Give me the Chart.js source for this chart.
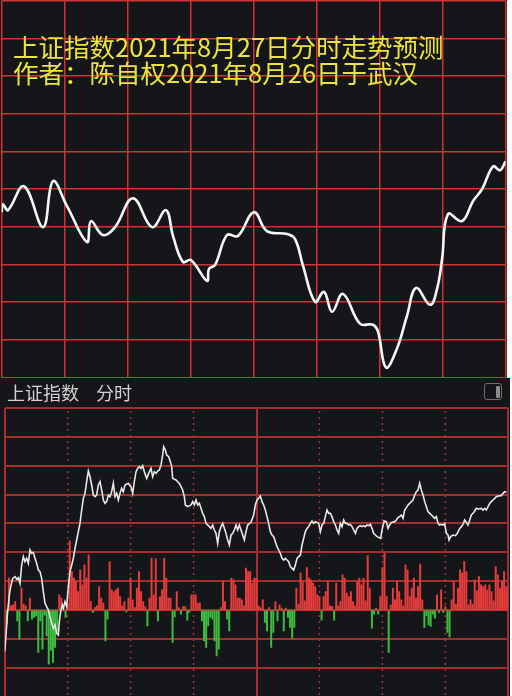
<!DOCTYPE html>
<html><head><meta charset="utf-8">
<script src="https://cdn.jsdelivr.net/npm/chart.js@4.4.0/dist/chart.umd.min.js"></script>
<style>
html,body{margin:0;padding:0;background:#fff;width:512px;height:696px;overflow:hidden;}
#top{position:absolute;left:0;top:0;width:507px;height:380px;background:#151619;}
#bot{position:absolute;left:0;top:378px;width:510px;height:330px;background:#151619;}
canvas{position:absolute;left:0;top:0;}
.t{position:absolute;left:13px;color:#ece43c;font-family:"Noto Sans CJK SC";font-size:25.5px;line-height:26px;white-space:nowrap;z-index:2;}
.h{position:absolute;top:3px;color:#d2d2d2;font-family:"Noto Sans CJK SC";font-size:18px;line-height:22px;white-space:nowrap;z-index:2;}
#icon{position:absolute;left:484px;top:5px;width:16px;height:15px;border:1.5px solid #6f6f6f;border-radius:3px;z-index:2;}
#icon span{position:absolute;right:1.5px;top:1.5px;width:4px;height:12px;background:#8a8a8a;border-radius:1px;}
</style></head>
<body>
<div id="top">
  <canvas id="c1" width="507" height="380"></canvas>
  <div class="t" style="top:33px">上证指数2021年8月27日分时走势预测</div>
  <div class="t" style="top:59px">作者：陈自权2021年8月26日于武汉</div>
</div>
<div id="bot">
  <canvas id="c2" width="510" height="330"></canvas>
  <div class="h" style="left:7px">上证指数</div>
  <div class="h" style="left:96px">分时</div>
  <div id="icon"><span></span></div>
</div>
<script>
// ---- forecast (top panel): minute of session, index level ----
const topTimes = [0,0.6,3,10.6,19.7,24.4,31.1,40.6,42.5,48.2,54,62.5,71.6,78.2,81.6,86.3,90.1,97.8,98.7,101.6,107.3,112.5,120.1,126.3,135.9,139.7,143.5,149.2,153.5,157.3,162.5,170.6,176.8,179.2,183,188.2,193,197.3,204,207.3,209.7,212.5,219.2,224.4,228.7,234,237.3,239.9];
const topValues = [3523.2,3524.8,3523.6,3528.4,3520.2,3529.4,3524.4,3517.2,3521.4,3518.6,3520.2,3526.0,3520.2,3523.6,3518.4,3513.2,3513.6,3509.4,3511.8,3512.6,3518.6,3518.4,3523.2,3519.4,3518.8,3517.8,3512.4,3505.2,3507.2,3503.2,3506.8,3500.8,3500.6,3499.2,3492.0,3495.8,3502.4,3508.0,3504.6,3507.8,3513.8,3522.8,3521.4,3525.4,3527.8,3532.4,3531.6,3533.4];

// ---- actual intraday (bottom panel) ----
const bottomTimes = [0,0.62,1.26,2.21,2.84,3.80,4.91,5.70,6.50,7.29,8.09,8.88,9.67,10.47,11.26,12.06,12.85,13.65,14.44,15.23,16.03,16.82,17.62,18.41,19.21,20.0,20.80,21.59,22.38,23.18,23.97,24.77,25.56,26.04,26.67,27.47,27.94,28.74,29.53,30.33,31.12,31.92,32.71,33.50,34.30,35.09,35.89,36.68,37.48,38.27,39.06,39.86,40.65,41.45,42.24,43.04,43.83,44.62,45.42,46.21,47.01,47.80,48.60,49.39,50.18,50.98,51.77,52.57,53.36,54.16,54.95,55.74,56.54,57.33,58.92,
59.40,60.19,60.99,61.78,62.58,63.37,64.16,64.96,65.75,66.55,67.66,68.61,69.72,70.52,71.31,72.11,72.90,73.70,74.49,75.28,75.76,76.56,77.19,78.14,78.94,79.57,80.05,81.64,83.23,84.02,84.82,85.61,86.09,87.20,88.79,89.58,90.38,91.17,91.97,92.76,93.55,94.35,95.14,95.94,96.73,97.53,98.32,99.11,99.91,100.70,101.50,102.29,103.09,103.88,104.67,105.47,106.26,107.06,107.85,108.65,109.44,110.23,111.03,111.82,112.62,113.41,114.21,115.0,115.79,117.38,
118.65,119.45,120.24,121.04,121.83,122.63,123.42,124.21,125.01,125.80,126.60,127.39,128.19,128.98,129.78,130.57,131.36,132.16,132.95,133.75,134.54,135.34,136.13,136.92,137.72,138.51,139.31,140.10,140.90,141.69,142.48,143.28,144.07,144.87,145.66,146.46,147.25,148.04,148.84,149.63,150.43,151.22,152.02,152.81,153.60,154.40,155.19,155.99,156.78,157.58,158.37,159.16,159.96,160.75,161.55,162.34,163.14,163.93,164.72,165.52,166.31,167.11,167.90,168.70,169.49,170.28,171.08,171.87,172.67,173.46,174.26,175.05,175.84,176.64,177.43,
179.18,179.82,180.77,181.88,182.68,183.47,184.26,185.85,186.65,187.44,188.24,189.03,189.83,190.62,191.41,192.21,193.00,193.80,194.59,195.39,196.18,196.97,197.77,198.56,199.36,200.15,200.95,201.74,202.53,203.33,204.12,204.92,205.71,206.51,207.30,208.09,208.89,209.68,210.48,211.27,211.75,212.54,213.65,214.77,215.72,216.83,217.63,218.42,219.21,220.01,220.80,221.60,222.39,223.19,223.98,224.77,225.57,227.16,227.95,228.75,229.54,230.33,231.13,231.92,232.72,233.51,234.31,235.89,236.69,237.48,238.28,239.07];
const bottomValues = [3490.07,3493.4,3497.4,3501.4,3503.07,3504.73,3505.07,3504.6,3504.87,3503.73,3507.4,3509.07,3508.07,3508.73,3507.73,3510.4,3509.73,3509.93,3508.73,3507.73,3506.4,3506.07,3504.73,3502.07,3499.73,3499.07,3498.4,3497.07,3495.73,3494.73,3495.4,3493.73,3493.4,3496.07,3498.07,3499.4,3498.73,3500.07,3499.07,3503.07,3506.07,3507.4,3508.73,3510.73,3512.4,3514.07,3515.73,3518.4,3520.73,3521.73,3524.07,3526.2,3525.07,3523.4,3521.4,3521.07,3521.4,3523.4,3524.07,3522.4,3520.4,3519.73,3520.07,3521.4,3521.07,3522.07,3523.73,3521.07,3521.73,3520.4,3521.73,3522.73,3522.07,3523.4,3523.73,
3523.4,3523.07,3521.73,3524.07,3526.07,3526.73,3527.07,3526.73,3527.27,3526.07,3524.73,3525.73,3526.73,3525.07,3526.07,3525.73,3526.2,3526.4,3527.4,3529.4,3531.07,3530.4,3529.4,3529.07,3528.07,3527.07,3524.73,3524.4,3523.73,3523.07,3522.4,3521.07,3519.4,3519.07,3519.4,3520.07,3519.4,3520.4,3519.4,3519.73,3518.73,3517.73,3517.07,3515.73,3515.4,3515.07,3514.73,3515.4,3514.4,3513.73,3511.73,3514.07,3515.07,3515.73,3514.73,3513.73,3512.4,3511.4,3513.4,3513.73,3514.4,3515.4,3514.4,3515.4,3514.4,3513.4,3512.4,3514.07,3515.4,3515.93,
3517.4,3519.4,3520.4,3520.73,3521.2,3520.07,3519.4,3518.4,3517.07,3515.73,3514.07,3513.4,3513.07,3512.07,3511.07,3510.4,3509.73,3508.73,3508.4,3508.73,3508.4,3508.07,3507.07,3506.73,3506.4,3507.4,3508.73,3509.07,3509.4,3511.4,3512.73,3514.07,3514.73,3515.07,3515.73,3516.2,3515.73,3516.07,3515.93,3515.73,3514.07,3515.4,3515.73,3517.07,3518.4,3517.73,3517.73,3517.07,3516.07,3515.4,3514.4,3513.73,3515.73,3515.07,3516.4,3515.73,3515.73,3515.4,3515.53,3515.07,3514.4,3513.73,3514.73,3515.07,3515.27,3515.07,3515.27,3515.07,3515.4,3515.27,3515.53,3514.73,3513.73,3513.4,3513.07,
3512.73,3514.4,3516.2,3516.07,3514.73,3515.4,3515.93,3516.07,3516.4,3516.87,3517.07,3517.4,3516.73,3518.4,3518.87,3519.4,3519.73,3520.07,3520.4,3521.4,3522.07,3522.4,3523.73,3522.4,3521.4,3520.07,3519.07,3518.07,3517.73,3517.4,3517.07,3516.73,3517.07,3515.73,3515.4,3515.53,3515.4,3515.73,3513.73,3513.4,3512.4,3513.07,3513.4,3513.27,3513.73,3514.73,3515.07,3515.53,3516.4,3515.93,3515.4,3516.4,3517.4,3517.73,3518.2,3518.73,3518.6,3518.73,3518.4,3518.73,3518.4,3519.07,3519.73,3520.07,3520.4,3520.73,3521.07,3521.27,3521.27,3521.73,3522.07,3521.93];

// ---- per-minute bar values (positive red, negative green), index = minute ----
const volumes = [
0,-42,98,15,18,28,-32,-87,68,20,
15,-32,38,-27,-22,-17,-127,-32,-117,-15,
-77,-162,-120,-157,-112,-62,48,38,10,-22,
20,210,118,98,88,58,123,78,138,98,
168,28,-7,10,15,73,38,23,-92,-27,
148,63,58,63,68,43,15,28,-5,38,
98,33,10,68,118,58,28,12,-47,38,
158,48,156,-32,43,63,158,98,38,38,
-97,-20,58,10,-12,13,13,-30,-7,48,
48,48,23,23,-32,-92,-112,-47,-22,-27,
-92,-137,-117,10,88,28,-27,-62,98,93,
78,38,38,33,15,128,118,118,83,98,
98,15,10,33,-37,-62,10,-112,-67,28,
-32,18,8,-62,8,-22,-52,-84,-52,68,
20,113,88,30,130,98,93,83,73,48,
43,-30,43,58,88,15,13,-30,83,15,
28,108,98,53,43,58,28,15,88,98,
78,98,30,166,68,-54,-12,8,-12,43,
128,173,43,-127,18,68,33,88,58,33,
15,138,123,43,68,98,38,73,140,33,
-52,-17,-44,-49,-12,-24,48,-7,63,-7,
13,-67,-80,33,88,20,68,123,113,148,
118,18,33,20,93,60,103,78,73,78,
63,78,58,30,133,108,68,88,118,73,
73];

const solidMinutes = [0,120,240];
const dottedMinutes = [30,60,90,150,180,210];

const hidden = {legend:{display:false},tooltip:{enabled:false}};

new Chart(document.getElementById('c1'), {
  type:'line',
  data:{datasets:[{
    data: topTimes.map((t,i)=>({x:t,y:topValues[i]})),
    borderColor:'#f6f6f6', borderWidth:2.6, pointRadius:0, tension:0.4, fill:false
  }]},
  options:{
    responsive:false, animation:false, devicePixelRatio:1,
    layout:{padding:{left:1.7,right:1.3,top:0.7,bottom:2.5}},
    plugins:hidden,
    scales:{
      x:{type:'linear',min:0,max:240,ticks:{display:false,stepSize:30},
         grid:{color:'#cf3333',lineWidth:1.5,drawTicks:false},border:{display:false}},
      y:{min:3490,max:3565.66,ticks:{display:false,count:11},
         grid:{color:'#cf3333',lineWidth:1.5,drawTicks:false},border:{display:false}}
    }
  }
});

const dottedGrid = {
  id:'dottedGrid',
  beforeDatasetsDraw(chart){
    const {ctx, chartArea:a, scales:{x}} = chart;
    ctx.save();
    ctx.strokeStyle='#a33030'; ctx.lineWidth=1.5; ctx.setLineDash([2,4]);
    dottedMinutes.forEach(t=>{
      const px = x.getPixelForValue(t);
      ctx.beginPath(); ctx.moveTo(px,a.top+3); ctx.lineTo(px,a.bottom); ctx.stroke();
    });
    ctx.restore();
  }
};

new Chart(document.getElementById('c2'), {
  type:'bar',
  data:{datasets:[
    {type:'line', data: bottomTimes.map((t,i)=>({x:t,y:bottomValues[i]})), yAxisID:'y',
     borderColor:'#e8e8e8', borderWidth:1.6, pointRadius:0, tension:0, fill:false, order:0},
    {type:'bar', data: volumes.map((v,i)=>({x:i,y:v})), yAxisID:'yv',
     backgroundColor: c => (c.raw && c.raw.y < 0) ? '#3fbb3f' : '#e63c3c',
     barPercentage:0.95, categoryPercentage:1, order:1}
  ]},
  options:{
    responsive:false, animation:false, devicePixelRatio:1,
    layout:{padding:{left:4.7,right:1.7,top:30,bottom:11.5}},
    plugins:hidden,
    scales:{
      x:{type:'linear',min:0,max:240,offset:false,ticks:{display:false,stepSize:30},
         grid:{offset:false,drawTicks:false,lineWidth:2,
               color:c => (c.tick && solidMinutes.includes(c.tick.value)) ? '#a52d2d' : 'rgba(0,0,0,0)'},
         border:{display:false}},
      y:{min:3481.1,max:3538.8,ticks:{display:false,count:11},
         grid:{color:'#a52d2d',lineWidth:2,drawTicks:false},border:{display:false}},
      yv:{min:-258,max:607.5,display:false}
    }
  },
  plugins:[dottedGrid]
});
</script>
</body></html>
